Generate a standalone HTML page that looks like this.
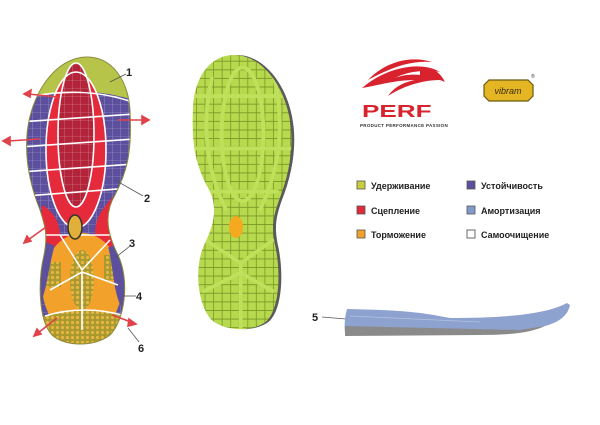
<!DOCTYPE html>
<html><head><meta charset="utf-8"><style>
html,body{margin:0;padding:0;background:#fff;}
svg{display:block;}
text{font-family:"Liberation Sans","DejaVu Sans",sans-serif;}
</style></head><body>
<svg width="600" height="425" viewBox="0 0 600 425" xmlns="http://www.w3.org/2000/svg">
<defs>
<path id="sole" d="M87 57 C112 57 128 80 130 110 C132 150 128 170 115 195 C103 215 108 235 118 255 C130 280 125 320 110 335 C95 347 65 347 52 335 C38 320 38 280 44 255 C48 235 45 225 40 210 C30 185 25 160 27 135 C30 95 55 57 87 57Z"/>
<clipPath id="cl"><use href="#sole"/></clipPath>
<pattern id="wg" width="8" height="8" patternUnits="userSpaceOnUse"><path d="M0 0H8M0 0V8" stroke="#ffffff" stroke-width="0.6" opacity="0.5"/></pattern>
<pattern id="gg" width="9" height="9" patternUnits="userSpaceOnUse"><rect width="9" height="9" fill="#b6d94e"/><path d="M0 0.5H9M0.5 0V9" stroke="#7f9c2a" stroke-width="0.9"/></pattern>
<pattern id="og" width="5" height="5" patternUnits="userSpaceOnUse"><rect width="5" height="5" fill="#a89a30"/><circle cx="2.5" cy="2.5" r="1.6" fill="#e8b640"/></pattern>
</defs>

<!-- left sole -->
<g clip-path="url(#cl)">
<rect x="0" y="0" width="160" height="360" fill="#5b4f9e"/>
<rect x="0" y="0" width="160" height="360" fill="url(#wg)"/>
<path d="M20 50 H140 V102 C110 92 80 88 40 96 L20 98Z" fill="#b6c54a"/>
<ellipse cx="76" cy="150" rx="30" ry="78" fill="#e52a3b"/>
<ellipse cx="76" cy="135" rx="18" ry="72" fill="#b3243a"/>
<ellipse cx="76" cy="135" rx="18" ry="72" fill="url(#wg)"/>
<path d="M42 205 C55 212 60 225 60 235 L95 235 C95 220 100 212 110 200 L120 190 L125 250 L40 250Z" fill="#e52a3b"/>
<ellipse cx="82" cy="285" rx="40" ry="52" fill="#f2a12b"/>
<path d="M40 318 C60 308 100 308 130 318 V360 H40Z" fill="url(#og)"/>
<rect x="43" y="262" width="18" height="25" fill="url(#og)"/>
<rect x="104" y="255" width="16" height="25" fill="url(#og)"/>
<ellipse cx="82" cy="280" rx="12" ry="30" fill="url(#og)"/>
<path d="M34 305 C42 292 44 262 50 244 M126 305 C118 292 118 262 113 246" stroke="#5b4f9e" stroke-width="10" fill="none"/>
<g stroke="#fff" stroke-width="1.6" fill="none">
<path d="M20 99 C60 89 100 90 135 103"/>
<path d="M20 122 L135 114 M20 147 L135 139 M20 172 L135 164 M25 196 L130 188"/>
<ellipse cx="76" cy="135" rx="18" ry="72"/>
<ellipse cx="76" cy="150" rx="30" ry="78"/>
<path d="M40 235 H120 M60 235 L82 270 L110 240 M50 290 L82 272 L118 285 M82 272 V330 M45 316 C70 308 100 308 125 316"/>
</g>
<ellipse cx="75" cy="227" rx="7" ry="12" fill="#e0b03a" stroke="#333" stroke-width="1.5"/>
</g>
<use href="#sole" fill="none" stroke="#8a8a3a" stroke-width="1"/>

<!-- arrows -->
<g stroke="#e0424a" stroke-width="1.6" fill="#e0424a">
<line x1="58" y1="97" x2="28" y2="94"/><path d="M24 94 L31 90 L30 97Z"/>
<line x1="118" y1="120" x2="144" y2="120"/><path d="M149 120 L142 116 L142 124Z"/>
<line x1="40" y1="139" x2="8" y2="141"/><path d="M3 141 L10 137 L10 145Z"/>
<line x1="46" y1="227" x2="28" y2="240"/><path d="M24 243 L27 236 L31 241Z"/>
<line x1="57" y1="318" x2="38" y2="333"/><path d="M34 336 L37 329 L41 334Z"/>
<line x1="112" y1="315" x2="131" y2="322"/><path d="M136 324 L129 319 L128 326Z"/>
</g>

<!-- labels -->
<g stroke="#555" stroke-width="0.8" fill="none">
<line x1="110" y1="82" x2="126" y2="74"/>
<line x1="115" y1="180" x2="143" y2="196"/>
<line x1="115" y1="258" x2="130" y2="246"/>
<line x1="122" y1="296" x2="136" y2="296"/>
<line x1="128" y1="328" x2="139" y2="342"/>
<line x1="322" y1="317" x2="346" y2="319"/>
</g>
<g font-size="11" font-weight="bold" fill="#222">
<text x="126" y="76">1</text>
<text x="144" y="202">2</text>
<text x="129" y="247">3</text>
<text x="136" y="300">4</text>
<text x="138" y="352">6</text>
<text x="312" y="321">5</text>
</g>

<!-- right sole (mirrored) -->
<g transform="translate(291,55) scale(-0.95,0.955) translate(-27,-57)">
<use href="#sole" fill="#5a5a5a" transform="translate(-3,0)"/>
<use href="#sole" fill="url(#gg)"/>
<g clip-path="url(#cl)" stroke="#bfe05a" stroke-width="4" fill="none">
<path d="M45 80 C30 140 45 190 60 220 M110 80 C125 140 110 190 95 220"/>
<path d="M30 100 L130 100 M25 155 L132 155 M40 200 L120 200"/>
<path d="M45 250 L80 275 L118 250 M80 275 V345 M45 305 L80 285 L120 305"/>
<ellipse cx="78" cy="140" rx="22" ry="70"/>
</g>
</g>
<ellipse cx="236" cy="227" rx="7" ry="11" fill="#f5a91f"/>

<!-- PERF logo -->
<g fill="#d8232f">
<path d="M362 88 C385 68 420 60 440 72 C430 70 410 70 395 78 C410 72 430 75 440 80 C420 80 400 88 388 96 C395 86 405 82 415 80 C395 80 375 86 362 88Z"/>
<path d="M368 80 C385 62 410 55 432 62 C410 60 390 68 368 80Z"/>
<path d="M420 70 C432 66 440 72 445 82 C436 78 428 78 420 80Z"/>
</g>
<text transform="translate(362,117) scale(1.45,1)" x="0" y="0" font-size="18" font-weight="bold" fill="#d8232f">PERF</text>
<text x="360" y="127" font-size="4.5" font-weight="bold" fill="#333" letter-spacing="0.3">PRODUCT PERFORMANCE PASSION</text>

<!-- Vibram -->
<path d="M489 80 H528 L533 85 V96 L528 101 H489 L484 96 V85Z" fill="#e4b623" stroke="#6a5a10" stroke-width="1.2"/>
<text x="508" y="94" font-size="9" font-style="italic" fill="#3a2a10" text-anchor="middle">vibram</text>
<text x="531" y="78" font-size="5" fill="#333">®</text>

<!-- legend -->
<g font-size="9" font-weight="bold" fill="#222">
<rect x="357" y="181" width="8" height="8" fill="#c9cf3a" stroke="#555" stroke-width="0.8"/><text x="371" y="189">Удерживание</text>
<rect x="357" y="206" width="8" height="8" fill="#e02a3a" stroke="#555" stroke-width="0.8"/><text x="371" y="214">Сцепление</text>
<rect x="357" y="230" width="8" height="8" fill="#f2a12b" stroke="#555" stroke-width="0.8"/><text x="371" y="238">Торможение</text>
<rect x="467" y="181" width="8" height="8" fill="#5b4f9e" stroke="#555" stroke-width="0.8"/><text x="481" y="189">Устойчивость</text>
<rect x="467" y="206" width="8" height="8" fill="#7f9ccc" stroke="#555" stroke-width="0.8"/><text x="481" y="214">Амортизация</text>
<rect x="467" y="230" width="8" height="8" fill="#fff" stroke="#444" stroke-width="0.8"/><text x="481" y="238">Самоочищение</text>
</g>

<!-- insole -->
<path d="M347 309 C400 310 420 312 450 318 C500 318 545 315 567 303 L570 305 C568 315 560 322 545 326 C520 332 500 333 480 333 L345 333 C344 325 345 316 347 309Z" fill="#8ea2cf"/>
<path d="M345 326 L520 330 L545 326 C530 333 510 335 480 335 L345 336Z" fill="#8a8a8a"/>
<path d="M350 316 C400 318 430 320 480 322" stroke="#b4c2e0" stroke-width="0.8" fill="none"/>
</svg>
</body></html>
